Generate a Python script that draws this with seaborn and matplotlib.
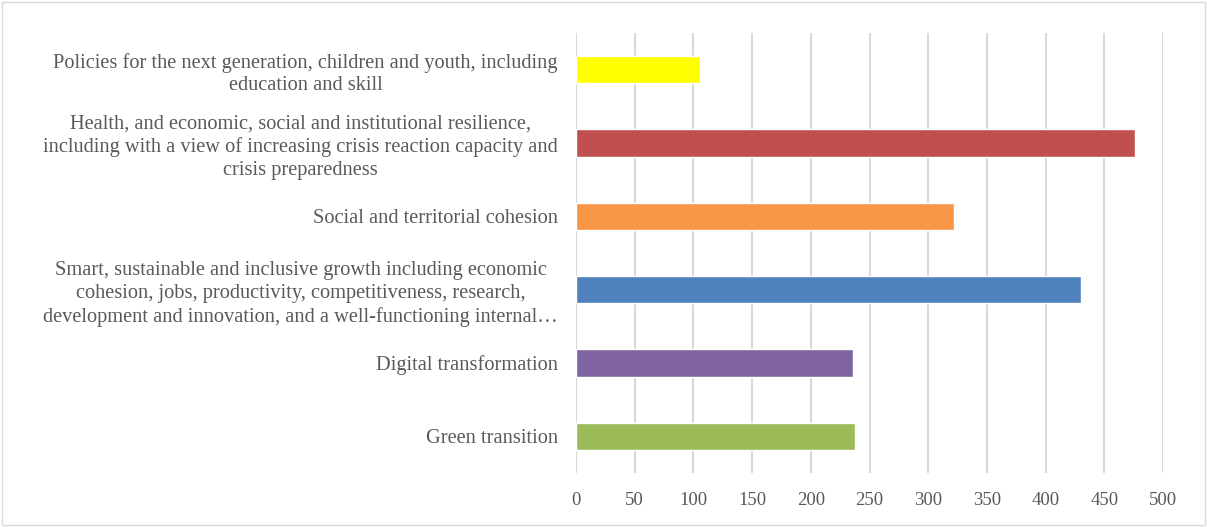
import matplotlib.pyplot as plt
import seaborn as sns
import pandas as pd

categories = [
    "Policies for the next generation, children and youth, including\neducation and skill",
    "Health, and economic, social and institutional resilience,\nincluding with a view of increasing crisis reaction capacity and\ncrisis preparedness",
    "Social and territorial cohesion",
    "Smart, sustainable and inclusive growth including economic\ncohesion, jobs, productivity, competitiveness, research,\ndevelopment and innovation, and a well-functioning internal\u2026",
    "Digital transformation",
    "Green transition",
]
values = [106, 476, 322, 430, 236, 238]
colors = ["#FFFF00", "#C0504D", "#F79646", "#4F81BD", "#8064A2", "#9BBB59"]
xticks = [0, 50, 100, 150, 200, 250, 300, 350, 400, 450, 500]

df = pd.DataFrame({"category": categories, "value": values})

sns.set_style("white")
plt.rcParams['font.family'] = ['Liberation Serif', 'DejaVu Serif']

fig = plt.figure(figsize=(12.07, 5.27), dpi=100)
ax = fig.add_axes([576 / 1207, 1 - 473 / 527, (1163 - 576) / 1207, (473 - 33) / 527])

sns.barplot(data=df, x="value", y="category", hue="category", palette=colors,
            width=0.37, legend=False, ax=ax, saturation=1)

ax.set_xlim(0, 500)
ax.set_xticks(xticks)
ax.set_xticklabels([str(t) for t in xticks])
ax.grid(axis="x", color="#D9D9D9", linewidth=1.5)
ax.set_axisbelow(True)
for s in ax.spines.values():
    s.set_visible(False)
ax.tick_params(axis="both", length=0, colors="#595959")
ax.tick_params(axis="y", pad=13, labelsize=14.7)
ax.tick_params(axis="x", pad=14, labelsize=13.5)
for t in ax.get_yticklabels():
    t.set_multialignment("center")
    t.set_linespacing(1.27)
ax.set_xlabel("")
ax.set_ylabel("")

# light frame around the whole chart
fig.patches.append(plt.Rectangle((0.002, 0.004), 0.996, 0.992, transform=fig.transFigure,
                                 fill=False, edgecolor="#D9D9D9", linewidth=1))

fig.savefig("out.png", dpi=100)
